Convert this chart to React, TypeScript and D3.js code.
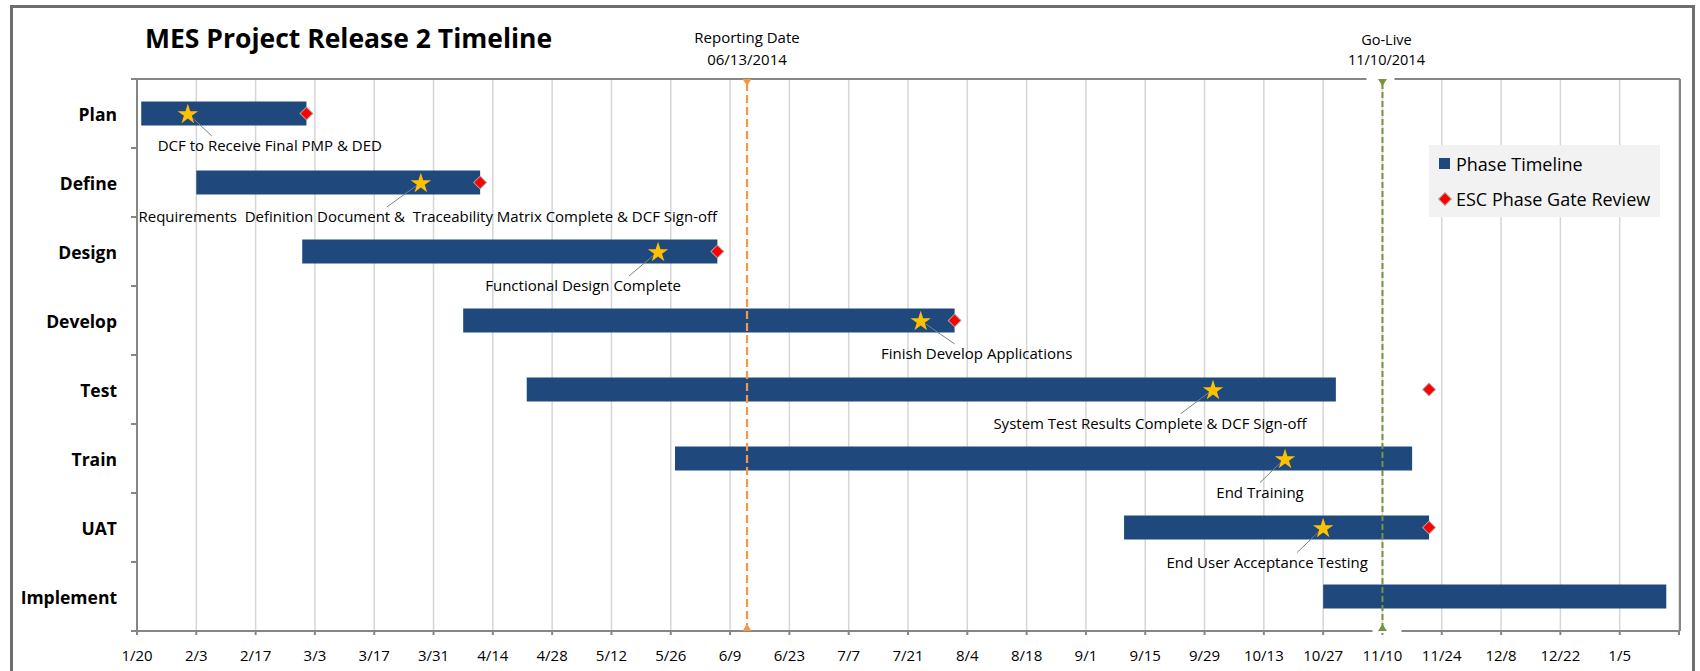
import React from "react";
import * as d3 from "d3";

// ---------- data ----------
const PHASES = ["Plan", "Define", "Design", "Develop", "Test", "Train", "UAT", "Implement"];
const PHASE_START = ["2014-01-21", "2014-02-03", "2014-02-28", "2014-04-07", "2014-04-22", "2014-05-27", "2014-09-10", "2014-10-27"];
const PHASE_END = ["2014-03-01", "2014-04-11", "2014-06-06", "2014-08-01", "2014-10-30", "2014-11-17", "2014-11-21", "2015-01-16"];
const GATE_REVIEW = ["2014-03-01", "2014-04-11", "2014-06-06", "2014-08-01", "2014-11-21", null, "2014-11-21", null];
const MILESTONE_DATE = ["2014-02-01", "2014-03-28", "2014-05-23", "2014-07-24", "2014-10-01", "2014-10-18", "2014-10-27", null];
const MILESTONE_TEXT = [
  "DCF to Receive Final PMP & DED",
  "Requirements  Definition Document &  Traceability Matrix Complete & DCF Sign-off",
  "Functional Design Complete",
  "Finish Develop Applications",
  "System Test Results Complete & DCF Sign-off",
  "End Training",
  "End User Acceptance Testing",
  null,
];
// label placement (offset of label centre from the star) and leader end x-offset
const LABEL_DX = [82, 7, -75, 56, -63, -25, -56];
const LABEL_DY = [31.5, 33.5, 33.5, 32.5, 33, 33, 34];
const LEADER_DX = [24, -34, -29, 34, -32, -25, -26];

const TICK_DATES = [
  "2014-01-20", "2014-02-03", "2014-02-17", "2014-03-03", "2014-03-17", "2014-03-31", "2014-04-14",
  "2014-04-28", "2014-05-12", "2014-05-26", "2014-06-09", "2014-06-23", "2014-07-07", "2014-07-21",
  "2014-08-04", "2014-08-18", "2014-09-01", "2014-09-15", "2014-09-29", "2014-10-13", "2014-10-27",
  "2014-11-10", "2014-11-24", "2014-12-08", "2014-12-22", "2015-01-05", "2015-01-19",
];
const TICK_LABELS = [
  "1/20", "2/3", "2/17", "3/3", "3/17", "3/31", "4/14", "4/28", "5/12", "5/26", "6/9", "6/23", "7/7",
  "7/21", "8/4", "8/18", "9/1", "9/15", "9/29", "10/13", "10/27", "11/10", "11/24", "12/8", "12/22", "1/5", "",
];
const DOMAIN = ["2014-01-20", "2015-01-19"];
const REPORTING_DATE = "2014-06-13";
const GO_LIVE = "2014-11-10";

const TITLE = "MES Project Release 2 Timeline";
const LEGEND = ["Phase Timeline", "ESC Phase Gate Review"];

// ---------- styles ----------
const FONT = "'Open Sans', 'Noto Sans', sans-serif";
const BAR = "#1f497d";
const GRID = "#d6d6d6";
const AXIS = "#868686";
const ORANGE = "#f79646";
const GREEN = "#77933c";
const STAR = "#ffc000";

export default function App() {
  const parse = d3.timeParse("%Y-%m-%d");
  const W = 1700, H = 671;
  const left = 137, right = 1679, top = 79, bottom = 631;

  const x = d3.scaleTime().domain(DOMAIN.map((d) => parse(d)!)).range([left, right]);
  const y = d3.scaleBand<string>().domain(PHASES).range([top, bottom]);
  const bw = y.bandwidth();
  const barH = 24;

  const starPath = d3.symbol().type(d3.symbolStar).size(130)()!;
  const diamondPath = d3.symbol().type(d3.symbolSquare).size(82)()!;

  const repX = x(parse(REPORTING_DATE)!);
  const goX = x(parse(GO_LIVE)!);

  const boundaries = d3.range(PHASES.length + 1).map((i) => top + i * bw);

  const tri = (cx: number, cy: number, down: boolean) =>
    down
      ? `M${cx - 4.5},${cy} L${cx + 4.5},${cy} L${cx},${cy + 7} Z`
      : `M${cx - 4.5},${cy} L${cx + 4.5},${cy} L${cx},${cy - 7} Z`;

  return (
    <svg width={W} height={H} style={{ position: "absolute", left: 0, top: 0, background: "#fff" }} fontFamily={FONT}>
      <rect x={0} y={0} width={W} height={H} fill="#fff" />
      {/* outer frame */}
      <rect x={11.5} y={6.5} width={1682} height={720} fill="none" stroke="#6e6e6e" strokeWidth={3} />

      {/* title */}
      <text x={145} y={48} fontSize={26.5} fontWeight="bold" fill="#000">{TITLE}</text>

      {/* vertical gridlines */}
      {TICK_DATES.map((d, i) => (
        <line key={"g" + i} x1={x(parse(d)!)} x2={x(parse(d)!)} y1={top} y2={bottom} stroke={GRID} strokeWidth={1.5} />
      ))}

      {/* plot borders / axes */}
      <line x1={left - 6} x2={right + 1} y1={top} y2={top} stroke={AXIS} strokeWidth={2} />
      <line x1={right + 1} x2={right + 1} y1={top} y2={bottom} stroke={AXIS} strokeWidth={2} />
      <line x1={left} x2={left} y1={top} y2={bottom + 4} stroke={AXIS} strokeWidth={2} />
      <line x1={left - 6} x2={right + 1} y1={bottom} y2={bottom} stroke={AXIS} strokeWidth={2} />
      {boundaries.map((b, i) => (
        <line key={"yt" + i} x1={left - 6} x2={left} y1={b} y2={b} stroke={AXIS} strokeWidth={2} />
      ))}
      {TICK_DATES.map((d, i) => (
        <line key={"xt" + i} x1={x(parse(d)!)} x2={x(parse(d)!)} y1={bottom} y2={bottom + 4} stroke={AXIS} strokeWidth={2} />
      ))}
      {/* tick labels */}
      {TICK_DATES.map((d, i) => (
        <text key={"xl" + i} x={x(parse(d)!)} y={655} textAnchor="middle" dominantBaseline="central" fontSize={15} fill="#000">
          {TICK_LABELS[i]}
        </text>
      ))}
      {/* category labels */}
      {PHASES.map((p) => (
        <text key={"c" + p} x={117} y={y(p)! + bw / 2} textAnchor="end" dominantBaseline="central" fontSize={17.5} fontWeight="bold" fill="#000">
          {p}
        </text>
      ))}

      {/* bars */}
      {PHASES.map((p, i) => {
        const x0 = x(parse(PHASE_START[i])!);
        const x1 = x(parse(PHASE_END[i])!);
        return <rect key={"b" + p} x={x0} y={y(p)! + bw / 2 - barH / 2} width={x1 - x0} height={barH} fill={BAR} />;
      })}

      {/* reference lines */}
      <line x1={repX} x2={repX} y1={top + 4} y2={bottom - 4} stroke={ORANGE} strokeWidth={2.2} strokeDasharray="8,4" />
      <path d={tri(repX, top, true)} fill={ORANGE} />
      <path d={tri(repX, bottom, false)} fill={ORANGE} />
      <text x={repX} y={37} textAnchor="middle" dominantBaseline="central" fontSize={15} fill="#000">Reporting Date</text>
      <text x={repX} y={58.5} textAnchor="middle" dominantBaseline="central" fontSize={15} fill="#000">06/13/2014</text>

      <rect x={goX - 16} y={75.5} width={28} height={5} fill="#fff" />
      <rect x={goX - 10} y={629} width={29} height={4} fill="#fff" />
      <line x1={goX} x2={goX} y1={top + 4} y2={bottom - 4} stroke={GREEN} strokeWidth={2} strokeDasharray="6,3" />
      <path d={tri(goX, top, true)} fill={GREEN} />
      <path d={tri(goX, bottom, false)} fill={GREEN} />
      <text x={goX + 4} y={39} textAnchor="middle" dominantBaseline="central" fontSize={14.5} fill="#000">Go-Live</text>
      <text x={goX + 4} y={59} textAnchor="middle" dominantBaseline="central" fontSize={14.5} fill="#000">11/10/2014</text>

      {/* milestone leader lines + labels */}
      {PHASES.map((p, i) => {
        const md = MILESTONE_DATE[i];
        const txt = MILESTONE_TEXT[i];
        if (!md || !txt) return null;
        const sx = x(parse(md)!);
        const sy = y(p)! + bw / 2;
        const lx = sx + LABEL_DX[i];
        const ly = sy + LABEL_DY[i];
        return (
          <g key={"m" + p}>
            <line x1={sx} y1={sy} x2={sx + LEADER_DX[i]} y2={ly - 9} stroke="#7f7f7f" strokeWidth={1} />
            <text x={lx} y={ly} textAnchor="middle" dominantBaseline="central" fontSize={15} fill="#000" style={{ whiteSpace: "pre" }}>
              {txt}
            </text>
          </g>
        );
      })}

      {/* gate review diamonds */}
      {PHASES.map((p, i) => {
        const g = GATE_REVIEW[i];
        if (!g) return null;
        return (
          <path key={"d" + p} d={diamondPath} transform={`translate(${x(parse(g)!)},${y(p)! + bw / 2}) rotate(45)`} fill="#ff0000" stroke="#a6a6a6" strokeWidth={1} />
        );
      })}

      {/* stars */}
      {PHASES.map((p, i) => {
        const md = MILESTONE_DATE[i];
        if (!md) return null;
        return <path key={"s" + p} d={starPath} transform={`translate(${x(parse(md)!)},${y(p)! + bw / 2 + 1})`} fill={STAR} />;
      })}

      {/* legend */}
      <rect x={1429} y={145} width={231} height={72} fill="#f2f2f2" />
      <rect x={1439} y={158} width={11} height={11} fill={BAR} />
      <text x={1456} y={163.5} dominantBaseline="central" fontSize={18} fill="#000">{LEGEND[0]}</text>
      <path d={diamondPath} transform="translate(1445,199) rotate(45)" fill="#ff0000" stroke="#a6a6a6" strokeWidth={1} />
      <text x={1456} y={199} dominantBaseline="central" fontSize={18} fill="#000">{LEGEND[1]}</text>
    </svg>
  );
}
